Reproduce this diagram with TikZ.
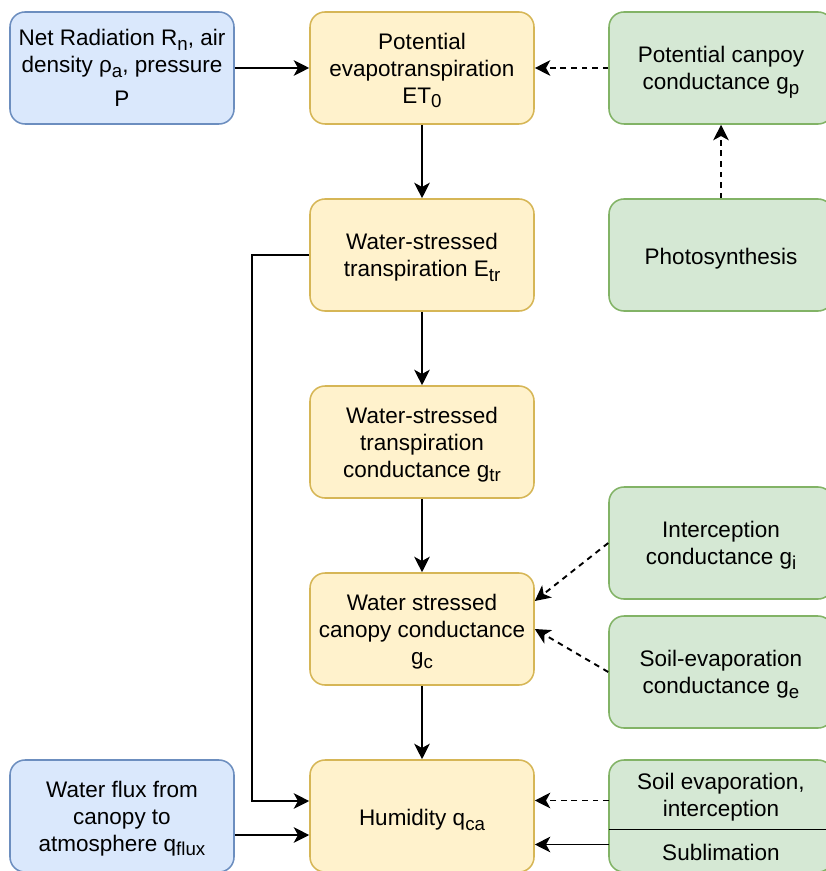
\documentclass[tikz,border=0pt]{standalone}
\usepackage{fontspec}
\setmainfont{Liberation Sans}
\usepackage{xcolor}
\usetikzlibrary{arrows.meta}
\definecolor{blueFill}{HTML}{DAE8FC}
\definecolor{blueLine}{HTML}{6C8EBF}
\definecolor{yellowFill}{HTML}{FFF2CC}
\definecolor{yellowLine}{HTML}{D6B656}
\definecolor{greenFill}{HTML}{D5E8D4}
\definecolor{greenLine}{HTML}{82B366}
\newcommand{\lo}[1]{{\fontsize{13.3pt}{13.3pt}\selectfont\raisebox{-0.25em}{#1}}}
\newcommand{\tall}{\rule{0pt}{\dimexpr 0.716em+2.1pt\relax}}

\begin{document}
\begin{tikzpicture}[scale=1.0,
	label text/.style={font=\fontsize{16pt}{19.2pt}\selectfont, execute at begin node=\tall, text depth=0pt},
	box/.style={rectangle, rounded corners=0.375cm, line width=1.1pt, minimum width=5.6cm, minimum height=2.8cm, align=center, inner sep=2pt, label text},
	inbox/.style={box, fill=blueFill, draw=blueLine},
	midbox/.style={box, fill=yellowFill, draw=yellowLine},
	sidebox/.style={box, fill=greenFill, draw=greenLine},
	flow/.style={line width=1.35pt, -{Stealth[length=11pt, width=11pt, inset=3pt]}},
	hint/.style={flow, dash pattern=on 4pt off 3.5pt}]
	\useasboundingbox (0,0) rectangle (20.65,-21.775);
	\node [inbox] (rad) at (3.05, -1.7) {Net Radiation R\lo{n}, air\\density ρ\lo{a}, pressure\\[5pt]P};
	\node [midbox] (pet) at (10.55, -1.7) {Potential\\evapotranspiration\\ET\lo{0}};
	\node [sidebox] (gp) at (18.025, -1.7) {Potential canpoy\\conductance g\lo{p}};
	\node [midbox] (etr) at (10.55, -6.375) {Water-stressed\\transpiration E\lo{tr}};
	\node [sidebox] (photo) at (18.025, -6.375) {Photosynthesis};
	\node [midbox] (gtr) at (10.55, -11.05) {Water-stressed\\transpiration\\conductance g\lo{tr}};
	\node [midbox] (gc) at (10.55, -15.725) {Water stressed\\canopy conductance\\g\lo{c}};
	\node [sidebox] (gi) at (18.025, -13.575) {Interception\\conductance g\lo{i}};
	\node [sidebox] (ge) at (18.025, -16.8) {Soil-evaporation\\conductance g\lo{e}};
	\node [midbox] (hum) at (10.55, -20.4) {Humidity q\lo{ca}};
	\node [inbox] (qflux) at (3.05, -20.4) {Water flux from\\canopy to\\atmosphere q\lo{flux}};
	\node [sidebox] (src) at (18.025, -20.4) {};
	\node [align=center, minimum width=5.6cm, minimum height=1.725cm, label text] (soil) at (18.025, -19.8625) {Soil evaporation,\\interception};
	\node [minimum width=5.6cm, minimum height=1.075cm, label text] (subl) at (18.025, -21.2625) {Sublimation};
	\draw [line width=1.1pt] (soil.south west) -- (soil.south east);
	\draw [flow] (rad) -- (pet);
	\draw [hint] (gp) -- (pet);
	\draw [hint] (photo) -- (gp);
	\draw [flow] (pet) -- (etr);
	\draw [flow] (etr) -- (gtr);
	\draw [flow] (gtr) -- (gc);
	\draw [flow] (gc) -- (hum);
	\draw [hint] (gi.west) -- ([yshift=0.7cm]gc.east);
	\draw [hint] (ge.west) -- (gc.east);
	\draw [flow] (etr.west) -- ++(-1.425, 0) |- ([yshift=0.375cm]hum.west);
	\draw [flow] ([yshift=-0.475cm]qflux.east) -- ([yshift=-0.475cm]hum.west);
	\draw [hint] ([yshift=-0.15cm]soil.west) -- ([yshift=-0.15cm]soil.west -| hum.east);
	\draw [flow] ([yshift=0.15cm]subl.west) -- ([yshift=0.15cm]subl.west -| hum.east);
\end{tikzpicture}
\end{document}
